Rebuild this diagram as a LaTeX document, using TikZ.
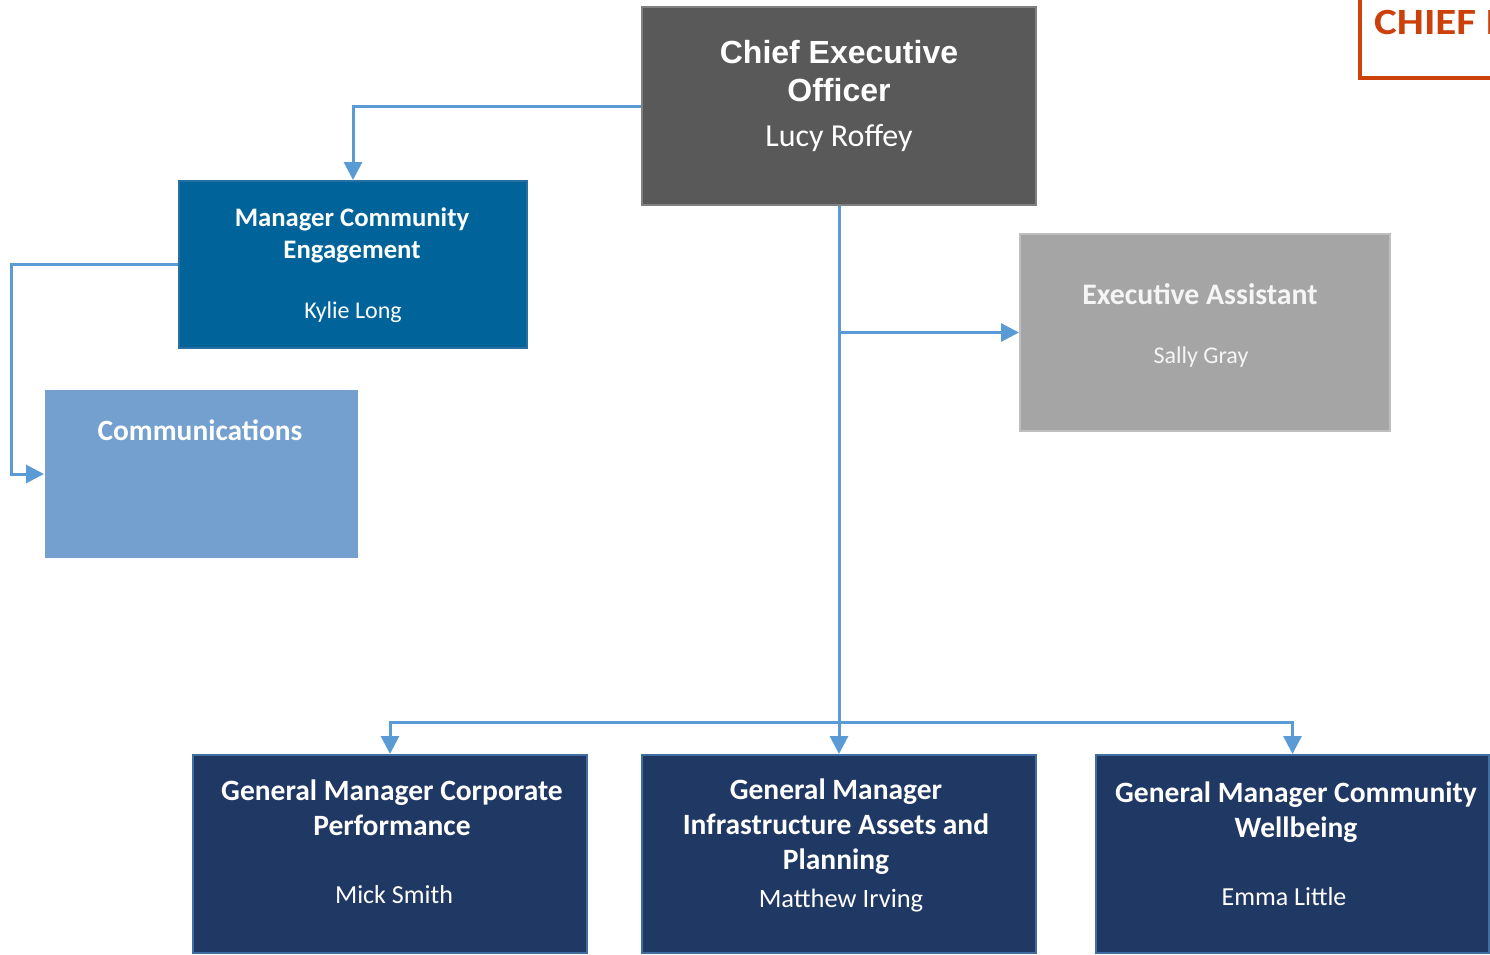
\documentclass[tikz,border=0pt]{standalone}
\usepackage{fontspec}
\setmainfont{Carlito}
\newfontfamily\arialf{Liberation Sans}
\newfontfamily\chieff[FakeStretch=1.16]{Carlito}
\usetikzlibrary{arrows.meta}
\definecolor{connc}{RGB}{91,155,213}
\definecolor{ceofill}{RGB}{89,89,89}
\definecolor{ceoline}{RGB}{128,128,128}
\definecolor{mcefill}{RGB}{0,99,153}
\definecolor{mceline}{RGB}{40,110,160}
\definecolor{commfill}{RGB}{115,160,206}
\definecolor{eafill}{RGB}{165,165,165}
\definecolor{ealine}{RGB}{190,190,190}
\definecolor{gmfill}{RGB}{32,56,100}
\definecolor{gmline}{RGB}{65,110,160}
\definecolor{chiefc}{RGB}{204,64,10}
\definecolor{eatext}{RGB}{245,245,245}
\tikzset{
  boxnode/.style={rectangle, inner sep=0pt, line width=2pt},
  conn/.style={draw=connc, line width=3pt, -{Triangle[length=18pt,width=18pt]}},
  connplain/.style={draw=connc, line width=3pt},
  txt/.style={text=white, align=center, inner sep=0pt},
}
\begin{document}
\begin{tikzpicture}[x=1pt,y=-1pt]
\useasboundingbox (0,0) rectangle (1490,954);
\clip (0,0) rectangle (1490,954);

% corner title
\draw[chiefc, line width=4pt] (1360,-10) -- (1360,78) -- (1500,78);
\node[anchor=west, inner sep=0pt, text=chiefc, font=\chieff\fontsize{37}{40}\selectfont\bfseries] (chief) at (1374,22) {CHIEF EXECUTIVE};

% boxes
\node[boxnode, draw=ceoline, fill=ceofill, minimum width=394pt, minimum height=198pt] (ceo) at (839,106) {};
\node[boxnode, draw=mceline, fill=mcefill, minimum width=348pt, minimum height=167pt] (mce) at (353,264.5) {};
\node[boxnode, fill=commfill, minimum width=313pt, minimum height=168pt] (comm) at (201.5,474) {};
\node[boxnode, draw=ealine, fill=eafill, minimum width=370pt, minimum height=197pt] (ea) at (1205,332.5) {};
\node[boxnode, draw=gmline, fill=gmfill, minimum width=394pt, minimum height=198pt] (gm1) at (390,854) {};
\node[boxnode, draw=gmline, fill=gmfill, minimum width=394pt, minimum height=198pt] (gm2) at (839,854) {};
\node[boxnode, draw=gmline, fill=gmfill, minimum width=393pt, minimum height=198pt] (gm3) at (1292.5,854) {};

% texts
\node[txt, font=\arialf\fontsize{32}{38}\selectfont\bfseries] (ceot) at (839,71) {Chief Executive\\Officer};
\node[txt, font=\fontsize{32}{38}\selectfont] (ceon) at (839,138) {Lucy Roffey};
\node[txt, font=\fontsize{26.7}{32}\selectfont\bfseries] (mcet) at (352,235) {Manager Community\\Engagement};
\node[txt, font=\fontsize{24}{29}\selectfont] (mcen) at (353,312) {Kylie Long};
\node[txt, font=\fontsize{29.4}{35}\selectfont\bfseries] (commt) at (200,430) {Communications};
\node[txt, text=eatext, font=\fontsize{29.8}{35}\selectfont\bfseries] (eat) at (1200,294) {Executive Assistant};
\node[txt, text=eatext, font=\fontsize{24}{29}\selectfont] (ean) at (1201,357) {Sally Gray};
\node[txt, font=\fontsize{29.5}{35}\selectfont\bfseries] (gm1t) at (392,808) {General Manager Corporate\\Performance};
\node[txt, font=\fontsize{26}{31}\selectfont] (gm1n) at (394,895) {Mick Smith};
\node[txt, font=\fontsize{29.5}{35}\selectfont\bfseries] (gm2t) at (836,827) {General Manager\\Infrastructure Assets and\\Planning};
\node[txt, font=\fontsize{26.5}{31}\selectfont] (gm2n) at (841,901) {Matthew Irving};
\node[txt, font=\fontsize{29.5}{35}\selectfont\bfseries] (gm3t) at (1296,812) {General Manager Community\\Wellbeing};
\node[txt, font=\fontsize{26}{31}\selectfont] (gm3n) at (1284,897) {Emma Little};

% connectors
\coordinate (j) at (ceo.south |- 0,722);
\coordinate (eaj) at (ceo.south |- ea.west);
\coordinate (mcel) at (11,264.5);
\draw[conn] (ceo.west) -| (mce.north);
\draw[conn] (mce.west) -- (mcel) |- (comm.west);
\draw[connplain] (ceo.south) -- (j);
\draw[conn] (eaj) -- (ea.west);
\draw[conn] (j) -- (gm2.north);
\draw[conn] (j) -| (gm1.north);
\draw[conn] (j) -| (gm3.north);
\end{tikzpicture}
\end{document}
